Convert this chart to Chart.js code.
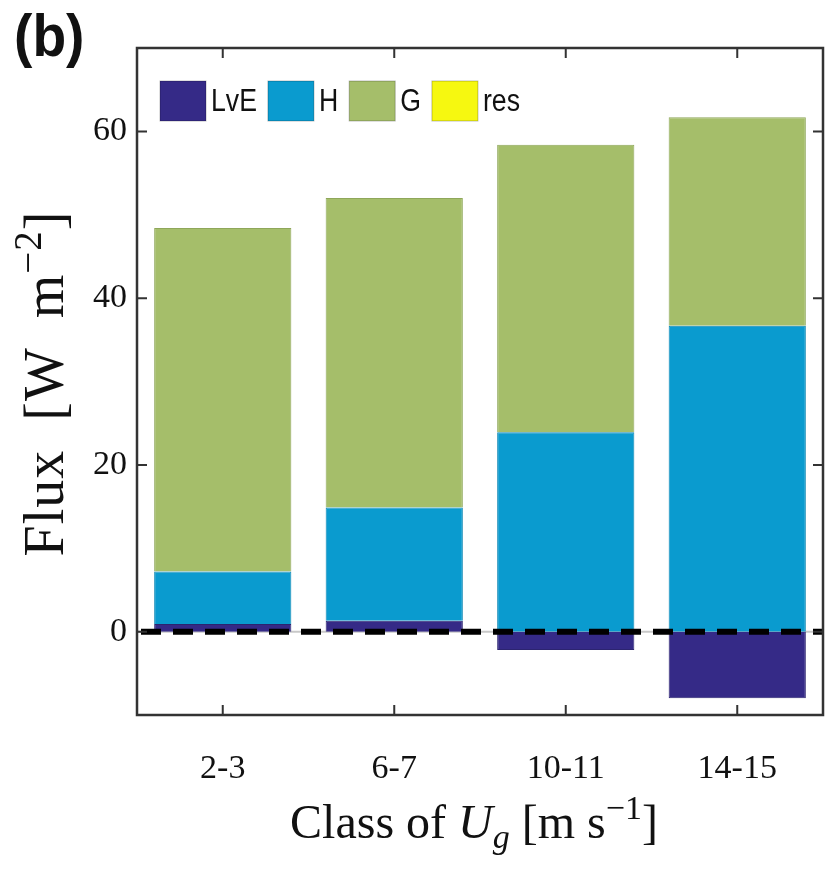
<!DOCTYPE html>
<html>
<head>
<meta charset="utf-8">
<script src="https://cdn.jsdelivr.net/npm/chart.js@4/dist/chart.umd.min.js"></script>
<style>
  html, body { margin: 0; padding: 0; background: #fff; }
  #wrap { width: 828px; height: 871px; }
</style>
</head>
<body>
<div id="wrap"><canvas id="fluxChart" width="828" height="871"></canvas></div>
<script>
// data
const categories = ['2-3', '6-7', '10-11', '14-15'];
const lveValues = [0.9, 1.3, -2.2, -8.0];
const hValues = [6.3, 13.6, 23.9, 36.7];
const gValues = [41.2, 37.1, 34.5, 25.0];
const resValues = [0, 0, 0, 0];
const yTicks = [0, 20, 40, 60];

const serif = "'Liberation Serif', 'DejaVu Serif', serif";
const sans = "'Liberation Sans', Arial, sans-serif";

// draws text pieces one after another (normal / italic / sub / sup), centred on x
function drawPieces(ctx, pieces, x, y, size, spacing) {
  ctx.letterSpacing = (spacing || 0) + 'px';
  const fontOf = p => (p.italic ? 'italic ' : '') + Math.round(size * (p.scale || 1)) + 'px ' + serif;
  let total = 0;
  pieces.forEach(p => { ctx.font = fontOf(p); total += ctx.measureText(p.t).width; });
  let cx = x - total / 2;
  pieces.forEach(p => {
    ctx.font = fontOf(p);
    ctx.fillText(p.t, cx, y + (p.dy || 0));
    cx += ctx.measureText(p.t).width;
  });
  ctx.letterSpacing = '0px';
}

const extras = {
  id: 'extras',
  beforeDatasetsDraw(chart) {
    const ctx = chart.ctx, a = chart.chartArea, y0 = chart.scales.y.getPixelForValue(0);
    ctx.save();
    ctx.strokeStyle = '#c8c8c8';
    ctx.lineWidth = 2;
    ctx.beginPath(); ctx.moveTo(a.left, y0); ctx.lineTo(a.right, y0); ctx.stroke();
    ctx.restore();
  },
  afterDatasetsDraw(chart) {
    const ctx = chart.ctx, a = chart.chartArea;
    const xs = chart.scales.x, ys = chart.scales.y;
    const y0 = ys.getPixelForValue(0);
    ctx.save();
    // dashed zero line
    ctx.strokeStyle = '#000';
    ctx.lineWidth = 6;
    ctx.setLineDash([20, 12]);
    ctx.beginPath(); ctx.moveTo(a.left + 4, y0); ctx.lineTo(a.right, y0); ctx.stroke();
    ctx.setLineDash([]);

    // frame
    ctx.strokeStyle = '#333';
    ctx.lineWidth = 2.5;
    ctx.strokeRect(a.left, a.top, a.right - a.left, a.bottom - a.top);

    // inward ticks
    ctx.lineWidth = 2;
    ctx.beginPath();
    xs.ticks.forEach((t, i) => {
      const px = xs.getPixelForTick(i);
      ctx.moveTo(px, a.bottom); ctx.lineTo(px, a.bottom - 10);
      ctx.moveTo(px, a.top); ctx.lineTo(px, a.top + 10);
    });
    ys.ticks.forEach((t, i) => {
      const py = ys.getPixelForTick(i);
      ctx.moveTo(a.left, py); ctx.lineTo(a.left + 10, py);
      ctx.moveTo(a.right, py); ctx.lineTo(a.right - 10, py);
    });
    ctx.stroke();

    // legend inside the plot (text slightly condensed like the original)
    ctx.textBaseline = 'middle';
    ctx.font = '31px ' + sans;
    const boxW = 46, boxH = 40, ly = 81, squeeze = 0.86;
    let lx = 160;
    chart.data.datasets.forEach(ds => {
      ctx.fillStyle = ds.backgroundColor;
      ctx.fillRect(lx, ly, boxW, boxH);
      ctx.strokeStyle = 'rgba(0,0,0,0.25)';
      ctx.lineWidth = 1;
      ctx.strokeRect(lx, ly, boxW, boxH);
      ctx.fillStyle = '#111';
      const tx = lx + boxW + 5;
      ctx.save();
      ctx.translate(tx, ly + boxH / 2 + 1);
      ctx.scale(squeeze, 1);
      ctx.fillText(ds.label, 0, 0);
      ctx.restore();
      lx = tx + ctx.measureText(ds.label).width * squeeze + 11;
    });

    // panel letter
    ctx.textBaseline = 'alphabetic';
    ctx.fillStyle = '#111';
    ctx.save();
    ctx.translate(14, 56);
    ctx.scale(0.92, 1);
    ctx.font = 'bold 60px ' + sans;
    ctx.fillText('(b)', 0, 0);
    ctx.restore();

    // axis titles
    ctx.fillStyle = '#111';
    drawPieces(ctx, [
      { t: 'Class of ' },
      { t: 'U', italic: true },
      { t: 'g', italic: true, scale: 0.7, dy: 10 },
      { t: ' [m s' },
      { t: '\u22121', scale: 0.7, dy: -19 },
      { t: ']' }
    ], (a.left + a.right) / 2 - 6, 838, 48, 0);

    ctx.translate(63, (a.top + a.bottom) / 2 + 2);
    ctx.rotate(-Math.PI / 2);
    drawPieces(ctx, [
      { t: 'Flux\u2002[W\u2002m' },
      { t: '\u22122', scale: 0.7, dy: -22 },
      { t: ']' }
    ], 0, 0, 56, 1);
    ctx.restore();
  }
};

const ctx = document.getElementById('fluxChart').getContext('2d');
const fluxChart = new Chart(ctx, {
  type: 'bar',
  data: {
    labels: categories,
    datasets: [
      { label: 'LvE', data: lveValues, backgroundColor: '#352a87', borderColor: '#2c2470', borderWidth: 1 },
      { label: 'H', data: hValues, backgroundColor: '#0a9bcf', borderColor: '#0a86b3', borderWidth: 1 },
      { label: 'G', data: gValues, backgroundColor: '#a5be6a', borderColor: '#8fa75a', borderWidth: 1 },
      { label: 'res', data: resValues, backgroundColor: '#f6f810', borderColor: '#d8d80e', borderWidth: 0 }
    ]
  },
  options: {
    responsive: false,
    animation: false,
    layout: { padding: { left: 0, right: 5, top: 48, bottom: 0 } },
    plugins: {
      legend: { display: false },
      tooltip: { enabled: false }
    },
    datasets: { bar: { categoryPercentage: 1, barPercentage: 0.8 } },
    scales: {
      x: {
        stacked: true,
        grid: { display: false, drawTicks: false },
        border: { display: false },
        ticks: { color: '#111', font: { family: serif, size: 34 }, padding: 34 },
        afterFit(s) { s.height = 156; }
      },
      y: {
        stacked: true,
        min: -10,
        max: 70,
        grid: { display: false, drawTicks: false },
        border: { display: false },
        ticks: { color: '#111', font: { family: serif, size: 34 }, padding: 10 },
        afterBuildTicks(s) { s.ticks = yTicks.map(v => ({ value: v })); },
        afterFit(s) { s.width = 137; }
      }
    }
  },
  plugins: [extras]
});
</script>
</body>
</html>
